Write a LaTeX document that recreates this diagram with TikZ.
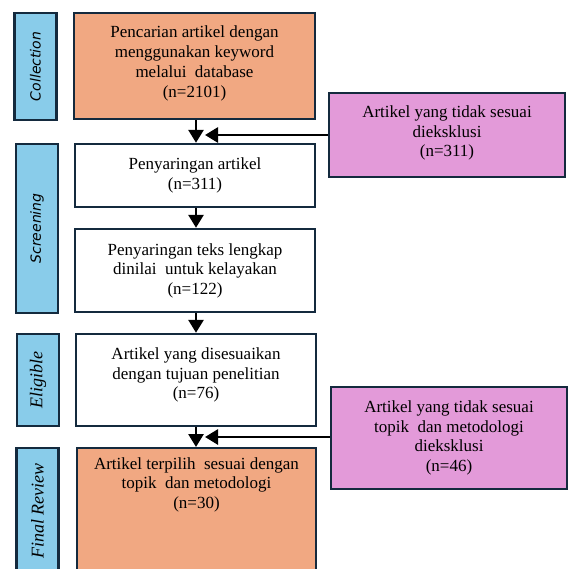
\documentclass[tikz,border=0pt]{standalone}
\usepackage{fontspec}
\setmainfont{Liberation Serif}
\newfontfamily\labsans{DejaVu Sans}
\usetikzlibrary{arrows.meta}
\definecolor{lblue}{RGB}{137,204,234}
\definecolor{borange}{RGB}{241,168,130}
\definecolor{bpink}{RGB}{227,154,217}
\definecolor{bord}{RGB}{20,42,62}
\tikzset{
  stagebox/.style={draw=bord, line width=2.4pt, fill=lblue, minimum width=42pt, inner sep=0pt},
  flowbox/.style={draw=bord, line width=2.4pt, minimum width=240pt, align=center, inner sep=0pt,
     font=\fontsize{17}{19.5}\selectfont},
  flowtxt/.style={align=center, inner sep=0pt, font=\fontsize{17}{19.8}\selectfont},
  exbox/.style={draw=bord, line width=2.4pt, fill=bpink, minimum width=236pt, align=center, inner sep=0pt,
     font=\fontsize{17}{19.5}\selectfont},
  flowarrow/.style={draw=black, line width=2.8pt, -{Triangle[width=15pt,length=13pt]}},
  stagetxt/.style={rotate=90, inner sep=0pt},
}
\begin{document}
\begin{tikzpicture}[x=1pt,y=-1pt]
\useasboundingbox (0,0) rectangle (568,569);
\clip (0,0) rectangle (568,569);
% stage labels
\node[stagebox, minimum height=107pt] (sc) at (35.5,66.5) {};
\node[stagetxt, font=\labsans\itshape\fontsize{14}{16}\selectfont] (tc) at (sc.center) {Collection};
\node[stagebox, minimum height=169pt] (ss) at (37,228.5) {};
\node[stagetxt, font=\labsans\itshape\fontsize{14}{16}\selectfont] (ts) at (ss.center) {Screening};
\node[stagebox, minimum height=92pt] (se) at (38,380) {};
\node[stagetxt, font=\itshape\fontsize{18}{20}\selectfont] (te) at (se.center) {Eligible};
\node[stagebox, minimum height=140pt, anchor=north] (sf) at (37.5,447) {};
\node[stagetxt, font=\itshape\fontsize{18}{20}\selectfont] (tf) at (37.5,511) {Final Review};
% main flow
\node[flowbox, fill=borange, minimum width=241pt, minimum height=106pt] (b1) at (194.5,66) {};
\node[flowtxt] (t1) at (194.5,63.5) {Pencarian artikel dengan\\menggunakan keyword\\melalui \ database\\(n=2101)};
\node[flowbox, fill=white, minimum height=63pt] (b2) at (195,175.5) {Penyaringan artikel\\(n=311)};
\node[flowbox, fill=white, minimum height=83pt] (b3) at (195,270.5) {Penyaringan teks lengkap\\dinilai \ untuk kelayakan\\(n=122)};
\node[flowbox, fill=white, minimum height=92pt] (b4) at (196,380) {};
\node[flowtxt] (t4) at (196,375) {Artikel yang disesuaikan\\dengan tujuan penelitian\\(n=76)};
\node[flowbox, fill=borange, minimum width=239pt, minimum height=140pt, anchor=north] (b5) at (196.5,447) {};
\node[flowtxt, anchor=north] (t5) at (196.5,457) {Artikel terpilih \ sesuai dengan\\topik \ dan metodologi\\(n=30)};
% exclusion boxes
\node[exbox, minimum height=84pt] (p1) at (447,135) {};
\node[flowtxt] (tp1) at (447,133) {Artikel yang tidak sesuai\\dieksklusi\\(n=311)};
\node[exbox, minimum height=102pt] (p2) at (449,438) {Artikel yang tidak sesuai\\topik \ dan metodologi\\dieksklusi\\(n=46)};
% junctions
\coordinate (j1) at (205,135);
\coordinate (j2) at (205,437);
% arrows
\draw[flowarrow] (b1.south -| 196,0) -- (b2.north -| 196,0);
\draw[flowarrow] (b2.south -| 196,0) -- (b3.north -| 196,0);
\draw[flowarrow] (b3.south -| 196,0) -- (b4.north -| 196,0);
\draw[flowarrow] (b4.south -| 196,0) -- (b5.north -| 196,0);
\draw[flowarrow] (p1.west) -- (j1);
\draw[flowarrow] (p2.west |- j2) -- (j2);
\end{tikzpicture}
\end{document}
